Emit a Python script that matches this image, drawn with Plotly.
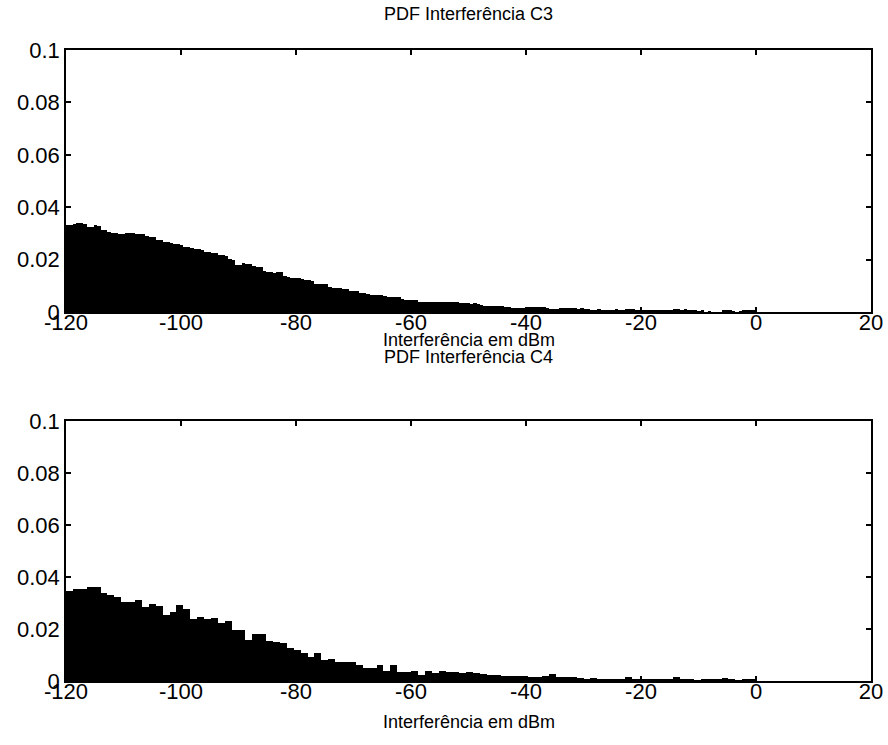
import numpy as np
import plotly.graph_objects as go

# ---------------- data ----------------
titles = ["PDF Interferência C3", "PDF Interferência C4"]
x_label = "Interferência em dBm"
x_ticks = [-120, -100, -80, -60, -40, -20, 0, 20]
y_ticks = [0, 0.02, 0.04, 0.06, 0.08, 0.1]
y_tick_labels = ["0", "0.02", "0.04", "0.06", "0.08", "0.1"]

# C3: 200 bins of 0.6 dB from -120 to 0
c3_bin_width = 0.6
c3_pdf = [
    0.0332, 0.0332, 0.0336, 0.0338, 0.0338, 0.0337, 0.0326, 0.0326, 0.0332, 0.0330,
    0.0313, 0.0312, 0.0304, 0.0303, 0.0300, 0.0297, 0.0296, 0.0303, 0.0303, 0.0302,
    0.0299, 0.0298, 0.0297, 0.0290, 0.0288, 0.0287, 0.0276, 0.0275, 0.0268, 0.0266,
    0.0262, 0.0260, 0.0259, 0.0255, 0.0249, 0.0248, 0.0246, 0.0240, 0.0239, 0.0236,
    0.0229, 0.0228, 0.0226, 0.0224, 0.0219, 0.0218, 0.0215, 0.0201, 0.0200, 0.0180,
    0.0179, 0.0186, 0.0185, 0.0182, 0.0176, 0.0171, 0.0170, 0.0156, 0.0154, 0.0152,
    0.0150, 0.0154, 0.0153, 0.0136, 0.0135, 0.0130, 0.0129, 0.0128, 0.0127, 0.0122,
    0.0122, 0.0120, 0.0108, 0.0107, 0.0106, 0.0107, 0.0095, 0.0091, 0.0090, 0.0090,
    0.0089, 0.0088, 0.0082, 0.0081, 0.0080, 0.0072, 0.0071, 0.0070, 0.0066, 0.0065,
    0.0064, 0.0065, 0.0060, 0.0058, 0.0058, 0.0057, 0.0058, 0.0050, 0.0047, 0.0046,
    0.0046, 0.0045, 0.0040, 0.0039, 0.0040, 0.0039, 0.0038, 0.0039, 0.0039, 0.0038,
    0.0039, 0.0038, 0.0039, 0.0037, 0.0034, 0.0033, 0.0033, 0.0032, 0.0033, 0.0030,
    0.0025, 0.0024, 0.0024, 0.0023, 0.0024, 0.0022, 0.0023, 0.0021, 0.0018, 0.0017,
    0.0017, 0.0016, 0.0017, 0.0020, 0.0021, 0.0020, 0.0019, 0.0018, 0.0018, 0.0017,
    0.0013, 0.0012, 0.0013, 0.0014, 0.0015, 0.0014, 0.0014, 0.0015, 0.0013, 0.0014,
    0.0011, 0.0010, 0.0009, 0.0009, 0.0010, 0.0009, 0.0008, 0.0009, 0.0009, 0.0010,
    0.0009, 0.0008, 0.0012, 0.0013, 0.0011, 0.0008, 0.0009, 0.0008, 0.0007, 0.0008,
    0.0008, 0.0007, 0.0008, 0.0009, 0.0008, 0.0007, 0.0010, 0.0010, 0.0009, 0.0011,
    0.0004, 0.0004, 0.0005, 0.0003, 0.0004, 0.0000, 0.0001, 0.0000, 0.0000, 0.0000,
    0.0005, 0.0005, 0.0004, 0.0001, 0.0000, 0.0001, 0.0005, 0.0005, 0.0004, 0.0005,
]

# C4: 100 bins of 1.2 dB from -120 to 0
c4_bin_width = 1.2
c4_pdf = [
    0.0347, 0.0352, 0.0353, 0.0362, 0.0363, 0.0340, 0.0331, 0.0324, 0.0305, 0.0305,
    0.0312, 0.0283, 0.0296, 0.0288, 0.0254, 0.0267, 0.0292, 0.0276, 0.0237, 0.0247,
    0.0237, 0.0241, 0.0224, 0.0232, 0.0196, 0.0196, 0.0158, 0.0181, 0.0179, 0.0155,
    0.0151, 0.0145, 0.0126, 0.0119, 0.0106, 0.0091, 0.0106, 0.0081, 0.0083, 0.0074,
    0.0074, 0.0072, 0.0062, 0.0051, 0.0051, 0.0062, 0.0038, 0.0062, 0.0036, 0.0036,
    0.0040, 0.0023, 0.0038, 0.0029, 0.0038, 0.0033, 0.0033, 0.0032, 0.0036, 0.0030,
    0.0026, 0.0022, 0.0022, 0.0019, 0.0019, 0.0019, 0.0019, 0.0017, 0.0017, 0.0020,
    0.0026, 0.0017, 0.0017, 0.0014, 0.0010, 0.0009, 0.0013, 0.0006, 0.0008, 0.0008,
    0.0008, 0.0017, 0.0006, 0.0005, 0.0004, 0.0004, 0.0004, 0.0004, 0.0014, 0.0004,
    0.0004, 0.0003, 0.0004, 0.0004, 0.0006, 0.0010, 0.0004, 0.0003, 0.0004, 0.0004,
]
x_start = -120

c3_x = x_start + c3_bin_width * (np.arange(len(c3_pdf)) + 0.5)
c4_x = x_start + c4_bin_width * (np.arange(len(c4_pdf)) + 0.5)

# ---------------- figure ----------------
W, H = 888, 745
FONT = "Liberation Sans, Arial, sans-serif"

fig = go.Figure()
fig.add_trace(go.Bar(x=c3_x, y=c3_pdf, width=c3_bin_width, marker=dict(color="black", line=dict(width=0)),
                     xaxis="x", yaxis="y", showlegend=False))
fig.add_trace(go.Bar(x=c4_x, y=c4_pdf, width=c4_bin_width, marker=dict(color="black", line=dict(width=0)),
                     xaxis="x2", yaxis="y2", showlegend=False))

left, right = 66, 871
xdom = [left / W, right / W]
top_box = (50, 312)
bot_box = (421, 681)

def ydom(box):
    return [1 - box[1] / H, 1 - box[0] / H]

axis_common = dict(showline=True, linecolor="black", linewidth=1.5, mirror="ticks",
                   ticks="inside", ticklen=5, tickcolor="black", tickwidth=1.5,
                   showgrid=False, zeroline=False, automargin=False,
                   tickfont=dict(family=FONT, size=22, color="black"))

xa = dict(axis_common, range=[-120, 20], tickvals=x_ticks, ticktext=[str(v) for v in x_ticks],
          domain=xdom, ticklabelstandoff=-10)
ya = dict(axis_common, range=[0, 0.1], tickvals=y_ticks, ticktext=y_tick_labels,
          ticklabelstandoff=0)

fig.update_layout(
    width=W, height=H,
    margin=dict(l=0, r=0, t=0, b=0),
    paper_bgcolor="white", plot_bgcolor="white",
    bargap=0,
    xaxis=dict(xa, anchor="y"),
    yaxis=dict(ya, domain=ydom(top_box), anchor="x"),
    xaxis2=dict(xa, anchor="y2"),
    yaxis2=dict(ya, domain=ydom(bot_box), anchor="x2"),
)

cx = (left + right) / 2 / W
ann = []
for text, ypx in [(titles[0], 14), (x_label, 340), (titles[1], 357), (x_label, 722)]:
    ann.append(dict(text=text, x=cx, y=1 - ypx / H, xref="paper", yref="paper",
                    xanchor="center", yanchor="middle", showarrow=False,
                    font=dict(family=FONT, size=18, color="black")))
fig.update_layout(annotations=ann)

fig.write_html("out.html")
